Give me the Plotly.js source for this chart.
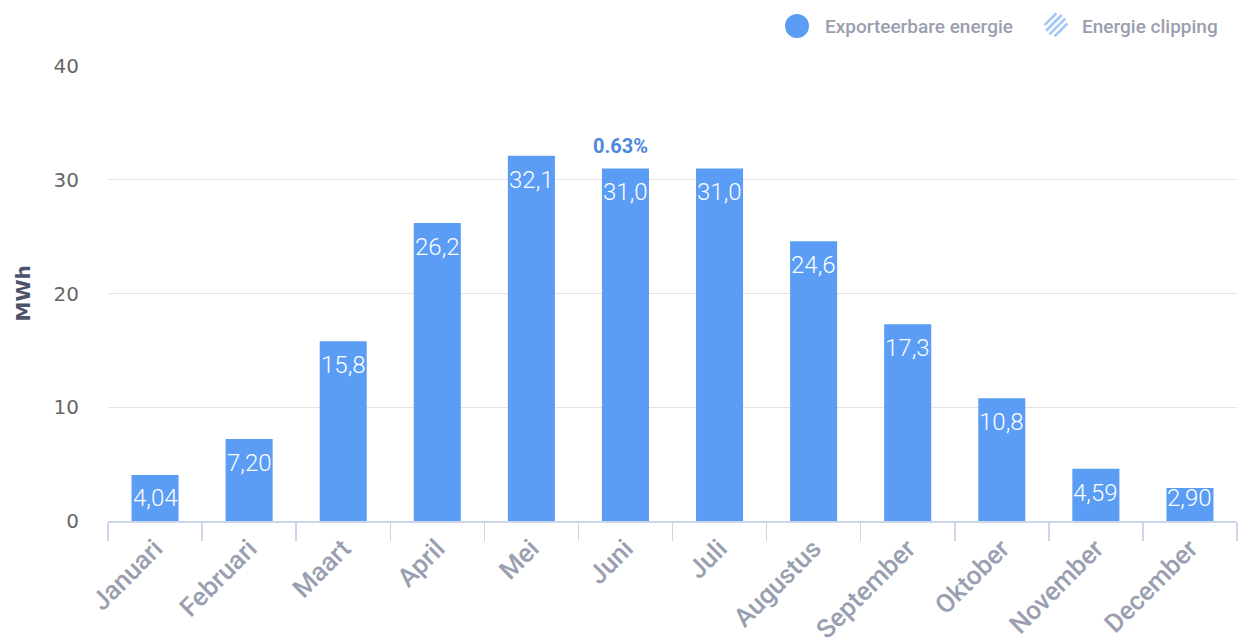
<!DOCTYPE html>
<html>
<head>
<meta charset="utf-8">
<script src="https://cdn.plot.ly/plotly-3.0.1.min.js"></script>
<style>html,body{margin:0;padding:0;background:#fff;}#chart{width:1239px;height:640px;}</style>
</head>
<body>
<div id="chart"></div>
<script>
const months = ["Januari","Februari","Maart","April","Mei","Juni","Juli","Augustus","September","Oktober","November","December"];
const exportable = [4.04, 7.20, 15.8, 26.2, 32.1, 31.0, 31.0, 24.6, 17.3, 10.8, 4.59, 2.90];
const clippingMonth = "Juni";
const clippingValue = 31.0;
const clippingLabel = "0.63%";
const legendNames = ["Exporteerbare energie", "Energie clipping"];

const W = 1239, H = 640;
const M = {l:108, r:2, t:66, b:119};
const PW = W - M.l - M.r, PH = H - M.t - M.b;
const px = x => (x - M.l) / PW;
const py = y => (H - M.b - y) / PH;
const yMax = 40;

const barColor = "#5b9cf5";

const fmt = v => v.toPrecision(3).replace('.', ',');

const annotations = months.map((m, i) => {
  const v = exportable[i];
  const barPx = v / yMax * PH;
  const base = {x: m, xref: 'x', yref: 'y', text: fmt(v), showarrow: false,
    font: {family: 'Roboto', size: 24, color: '#ffffff', weight: 300}};
  if (barPx < 46) {
    // keep label above the axis when the bar is too short
    return Object.assign(base, {y: 0, yanchor: 'middle', yshift: 23});
  }
  return Object.assign(base, {y: v, yanchor: 'top', yshift: -8});
});

annotations.push({
  x: clippingMonth, y: clippingValue, xref: 'x', yref: 'y',
  text: clippingLabel, showarrow: false, yanchor: 'bottom', yshift: 8, xshift: -5,
  font: {family: 'Roboto', size: 20, color: '#4a89dc', weight: 700}
});

// y-axis title
annotations.push({
  x: px(22), y: 0.5, xref: 'paper', yref: 'paper', text: 'MWh', textangle: -90,
  showarrow: false, xanchor: 'center', yanchor: 'middle',
  font: {family: 'DejaVu Sans', size: 20, color: '#4d5368', weight: 700}
});

// legend texts
annotations.push({
  x: px(823), y: py(26), xref: 'paper', yref: 'paper', text: legendNames[0],
  showarrow: false, xanchor: 'left', yanchor: 'middle',
  font: {family: 'Roboto', size: 19, color: '#9a9eae', weight: 500}
});
annotations.push({
  x: px(1080), y: py(26), xref: 'paper', yref: 'paper', text: legendNames[1],
  showarrow: false, xanchor: 'left', yanchor: 'middle',
  font: {family: 'Roboto', size: 19, color: '#9a9eae', weight: 500}
});

const shapes = [];
// legend circle
shapes.push({type:'circle', xref:'paper', yref:'paper', x0:px(785), x1:px(809), y0:py(38), y1:py(14),
  fillcolor: barColor, line:{width:0}});
// hatched circle
const cx = 1056, cy = 25, r = 11.5;
[-8, -3, 2, 7].forEach(d => {
  const half = Math.sqrt(Math.max(r*r - d*d, 0));
  const ox = cx + d / Math.SQRT2, oy = cy + d / Math.SQRT2;
  const dx = half / Math.SQRT2, dy = -half / Math.SQRT2;
  shapes.push({type:'line', xref:'paper', yref:'paper',
    x0: px(ox - dx), y0: py(oy - dy), x1: px(ox + dx), y1: py(oy + dy),
    line:{color:'#a3c7f8', width:2.6}});
});

const data = [{
  type: 'bar', x: months, y: exportable, name: legendNames[0],
  marker: {color: barColor, line: {width: 0}},
  hoverinfo: 'x+y', showlegend: false
}];

const layout = {
  width: W, height: H,
  margin: M,
  paper_bgcolor: '#ffffff', plot_bgcolor: '#ffffff',
  bargap: 0.5,
  showlegend: false,
  xaxis: {
    type: 'category',
    tickangle: -45,
    tickson: 'boundaries',
    ticks: 'outside', ticklen: 18, tickwidth: 1.5, tickcolor: '#ccd6eb',
    showline: true, linecolor: '#ccd6eb', linewidth: 2,
    showgrid: false,
    tickfont: {family: 'Roboto', size: 26, color: '#999fb0', weight: 500},
    fixedrange: true
  },
  yaxis: {
    range: [0, yMax], dtick: 10, tick0: 0,
    showgrid: true, gridcolor: '#e3e3e3', gridwidth: 1.2,
    zeroline: false, showline: false, ticks: '',
    ticklabelstandoff: 28,
    tickfont: {family: 'DejaVu Sans', size: 20, color: '#666666'},
    fixedrange: true
  },
  annotations: annotations,
  shapes: shapes
};

Plotly.newPlot('chart', data, layout, {displayModeBar: false, staticPlot: true});
</script>
</body>
</html>
